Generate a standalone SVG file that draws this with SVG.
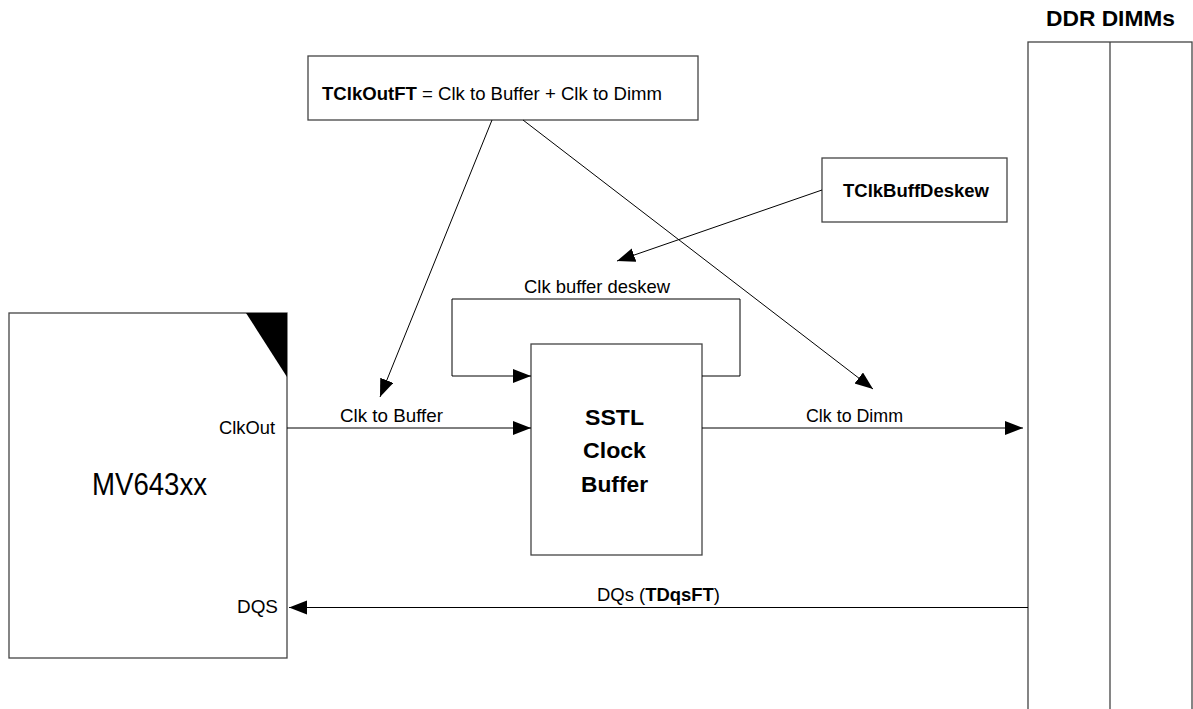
<svg xmlns="http://www.w3.org/2000/svg" width="1193" height="709" viewBox="0 0 1193 709">
<defs>
<marker id="arr" markerUnits="userSpaceOnUse" markerWidth="20" markerHeight="16" refX="18" refY="7" orient="auto">
<path d="M0,0 L18,7 L0,14 z" fill="#000"/>
</marker>
<style>
.box{fill:#fff;stroke:#444;stroke-width:1.3}
.ln{fill:none;stroke:#000;stroke-width:1}
.t{font-family:"Liberation Sans",Arial,sans-serif;font-size:19px;fill:#000}
.b{font-weight:bold}
</style>
</defs>
<rect width="1193" height="709" fill="#fff"/>
<g id="formula">
<rect class="box" x="308" y="56" width="390" height="64"/>
<text class="t" x="322" y="100" textLength="340" lengthAdjust="spacingAndGlyphs"><tspan class="b">TClkOutFT</tspan> = Clk to Buffer + Clk to Dimm</text>
</g>
<g id="deskew">
<rect class="box" x="822" y="158" width="185" height="64"/>
<text class="t b" x="843" y="197" textLength="146" lengthAdjust="spacingAndGlyphs">TClkBuffDeskew</text>
</g>
<g id="dimms">
<rect class="box" x="1028" y="42" width="164" height="680"/>
<line class="box" x1="1110" y1="42" x2="1110" y2="709"/>
<text class="t b" x="1046" y="26" style="font-size:22px" textLength="129" lengthAdjust="spacingAndGlyphs">DDR DIMMs</text>
</g>
<g id="mv643xx">
<rect class="box" x="9" y="313" width="278" height="345"/>
<polygon points="246,313 287,313 287,377" fill="#000"/>
<text class="t" x="92" y="495" style="font-size:32px" textLength="115" lengthAdjust="spacingAndGlyphs">MV643xx</text>
<text class="t" x="219" y="434" textLength="56" lengthAdjust="spacingAndGlyphs">ClkOut</text>
<text class="t" x="237" y="613" textLength="41" lengthAdjust="spacingAndGlyphs">DQS</text>
</g>
<g id="sstl">
<rect class="box" x="531" y="344" width="171" height="211"/>
<text class="t b" x="585" y="425" style="font-size:22px" textLength="59" lengthAdjust="spacingAndGlyphs">SSTL</text>
<text class="t b" x="583" y="458" style="font-size:22px" textLength="63" lengthAdjust="spacingAndGlyphs">Clock</text>
<text class="t b" x="581" y="492" style="font-size:22px" textLength="67" lengthAdjust="spacingAndGlyphs">Buffer</text>
</g>
<g id="connectors">
<path class="ln" d="M287,428 H531" marker-end="url(#arr)"/>
<path class="ln" d="M702,428 H1023" marker-end="url(#arr)"/>
<path class="ln" d="M1028,607.5 H289" marker-end="url(#arr)"/>
<path class="ln" d="M702,376 H740 V299 H452 V376 H531" marker-end="url(#arr)"/>
<path class="ln" d="M492,120 L380,397" marker-end="url(#arr)"/>
<path class="ln" d="M523,120 L873,389" marker-end="url(#arr)"/>
<path class="ln" d="M822,190 L617,261" marker-end="url(#arr)"/>
<text class="t" x="340" y="422" textLength="103" lengthAdjust="spacingAndGlyphs">Clk to Buffer</text>
<text class="t" x="524" y="293" textLength="146" lengthAdjust="spacingAndGlyphs">Clk buffer deskew</text>
<text class="t" x="806" y="422" textLength="97" lengthAdjust="spacingAndGlyphs">Clk to Dimm</text>
<text class="t" x="597" y="601" textLength="123" lengthAdjust="spacingAndGlyphs">DQs (<tspan class="b">TDqsFT</tspan>)</text>
</g>
</svg>
